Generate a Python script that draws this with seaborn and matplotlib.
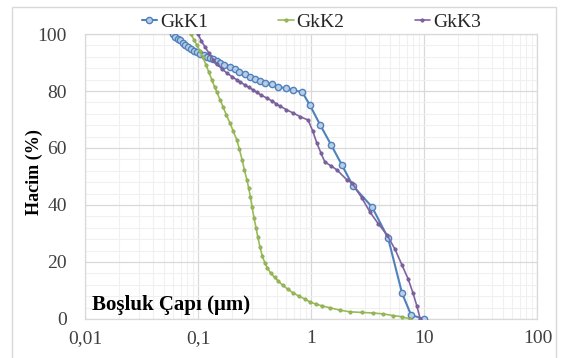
import numpy as np
import pandas as pd
import matplotlib
matplotlib.use("Agg")
import matplotlib.pyplot as plt
import matplotlib.ticker as mticker
from matplotlib.patches import Rectangle
import seaborn as sns

# GkK1 - boşluk çapı (um) / hacim (%)
x1 = [0.06, 0.063, 0.066, 0.069, 0.073, 0.077, 0.082, 0.087, 0.092, 0.098, 0.105, 0.112, 0.12, 0.128,
      0.136, 0.146, 0.156, 0.17, 0.19, 0.21, 0.23, 0.26, 0.29, 0.32, 0.35, 0.39, 0.45, 0.51, 0.6, 0.69,
      0.83, 0.975, 1.2, 1.5, 1.87, 2.34, 3.45, 4.78, 6.35, 7.63, 9.93]
y1 = [100, 99.1, 98.4, 97.8, 96.9, 96.1, 95.3, 94.6, 94.1, 93.6, 93.0, 92.5, 92.0, 91.6,
      91.2, 90.6, 90.0, 89.3, 88.5, 87.6, 86.8, 85.8, 84.9, 84.2, 83.6, 82.9, 82.3, 81.4, 81.0, 80.2,
      79.7, 75.0, 68.1, 61.1, 54.0, 46.7, 39.3, 28.4, 9.1, 1.4, 0]

# GkK2
x2 = [0.086, 0.092, 0.098, 0.104, 0.110, 0.117, 0.124, 0.132, 0.140, 0.147, 0.156, 0.166, 0.178, 0.191,
      0.205, 0.220, 0.232, 0.245, 0.257, 0.270, 0.280, 0.290, 0.300, 0.312, 0.325, 0.338, 0.352, 0.370,
      0.390, 0.410, 0.440, 0.475, 0.510, 0.560, 0.620, 0.690, 0.780, 0.880, 0.975, 1.10, 1.25, 1.47,
      1.80, 2.20, 2.80, 3.50, 4.30, 5.30, 6.30, 7.50]
y2 = [100, 98.0, 96.0, 94.0, 91.9, 89.3, 86.8, 84.0, 81.4, 79.5, 77.0, 74.5, 71.5, 68.8,
      65.8, 62.8, 59.5, 55.8, 52.2, 48.8, 46.0, 42.8, 39.3, 35.5, 32.0, 28.6, 25.3, 22.0,
      19.6, 17.9, 16.0, 14.6, 13.4, 11.8, 10.5, 9.2, 8.0, 7.0, 6.0, 5.2, 4.6, 3.9,
      3.1, 2.5, 2.3, 2.1, 1.8, 1.2, 0.8, 0]

# GkK3
x3 = [0.1, 0.107, 0.115, 0.125, 0.136, 0.148, 0.162, 0.180, 0.20, 0.22, 0.234, 0.26, 0.28, 0.306,
      0.33, 0.36, 0.406, 0.45, 0.49, 0.53, 0.60, 0.69, 0.80, 0.94, 1.03, 1.12, 1.22, 1.32, 1.50,
      1.69, 2.07, 2.30, 2.80, 3.31, 3.90, 4.68, 5.50, 6.35, 7.20, 7.94, 8.60, 9.2]
y3 = [100, 97.5, 95.5, 93.2, 90.9, 89.4, 87.8, 86.3, 85.0, 83.9, 83.2, 82.1, 81.3, 80.4,
      79.5, 78.6, 77.5, 76.5, 75.5, 74.7, 73.5, 72.3, 71.0, 69.8, 66.0, 61.8, 58.2, 55.1, 53.7,
      52.3, 48.8, 47.7, 42.5, 37.5, 33.5, 29.5, 24.5, 18.9, 14.0, 9.1, 4.5, 0]

x_ticks = [0.01, 0.1, 1, 10, 100]
x_ticklabels = ["0,01", "0,1", "1", "10", "100"]
y_ticks = [0, 20, 40, 60, 80, 100]

sns.set_style("white")
plt.rcParams['font.family'] = ['Liberation Serif', 'DejaVu Serif']

fig = plt.figure(figsize=(5.61, 3.58), dpi=100)
ax = fig.add_axes([0.1515, 0.109, 0.8065, 0.796])

# dış çerçeve
fig.patches.append(Rectangle((12/561, -0.05), 544/561, 1.05 - 7/358, transform=fig.transFigure,
                             fill=False, edgecolor="#d9d9d9", lw=1))

df1 = pd.DataFrame({"x": x1, "y": y1})
df2 = pd.DataFrame({"x": x2, "y": y2})
df3 = pd.DataFrame({"x": x3, "y": y3})

sns.lineplot(data=df1, x="x", y="y", estimator=None, sort=False, color="#4F81BD", lw=1.5,
             marker="o", markersize=4.5, markerfacecolor="#b9cde5", markeredgecolor="#4F81BD",
             markeredgewidth=1, label="GkK1", ax=ax, zorder=3)
sns.lineplot(data=df2, x="x", y="y", estimator=None, sort=False, color="#9BBB59", lw=1.2,
             marker="o", markersize=2.4, markerfacecolor="#9BBB59", markeredgecolor="#86a84a",
             markeredgewidth=0.5, label="GkK2", ax=ax, zorder=3)
sns.lineplot(data=df3, x="x", y="y", estimator=None, sort=False, color="#8064A2", lw=1.2,
             marker="o", markersize=2.4, markerfacecolor="#8064A2", markeredgecolor="#6d5490",
             markeredgewidth=0.5, label="GkK3", ax=ax, zorder=3)

ax.set_xscale("log")
ax.set_xlim(0.01, 100)
ax.set_ylim(0, 100)
ax.xaxis.set_major_locator(mticker.FixedLocator(x_ticks))
ax.xaxis.set_major_formatter(mticker.FixedFormatter(x_ticklabels))
ax.xaxis.set_minor_locator(mticker.LogLocator(base=10, subs=np.arange(2, 10)))
ax.xaxis.set_minor_formatter(mticker.NullFormatter())
ax.yaxis.set_major_locator(mticker.FixedLocator(y_ticks))
ax.yaxis.set_minor_locator(mticker.MultipleLocator(4))

ax.grid(which="major", color="#d9d9d9", lw=0.9, zorder=1)
ax.grid(which="minor", color="#f0f0f0", lw=0.8, zorder=0)
ax.set_axisbelow(True)
for sp in ax.spines.values():
    sp.set_color("#d9d9d9")
    sp.set_linewidth(0.9)

ax.tick_params(axis="both", which="both", length=0, labelsize=14, colors="#404040")
ax.tick_params(axis="x", pad=8)
ax.tick_params(axis="y", pad=13)

ax.set_xlabel("")
ax.set_ylabel("Hacim (%)", fontsize=13, fontweight="bold", color="black")
ax.yaxis.set_label_coords(-0.093, 0.517)
ax.text(0.016, 0.05, "Boşluk Çapı (μm)", transform=ax.transAxes, fontsize=15,
        fontweight="bold", ha="left", va="center", color="black")

ax.legend(loc="lower center", bbox_to_anchor=(0.5, 1.0 - 5/285), ncol=3, frameon=False,
          handlelength=0.8, handletextpad=0.15, columnspacing=3.6, borderaxespad=0,
          prop={"size": 14})

fig.savefig("out.png", dpi=100)
